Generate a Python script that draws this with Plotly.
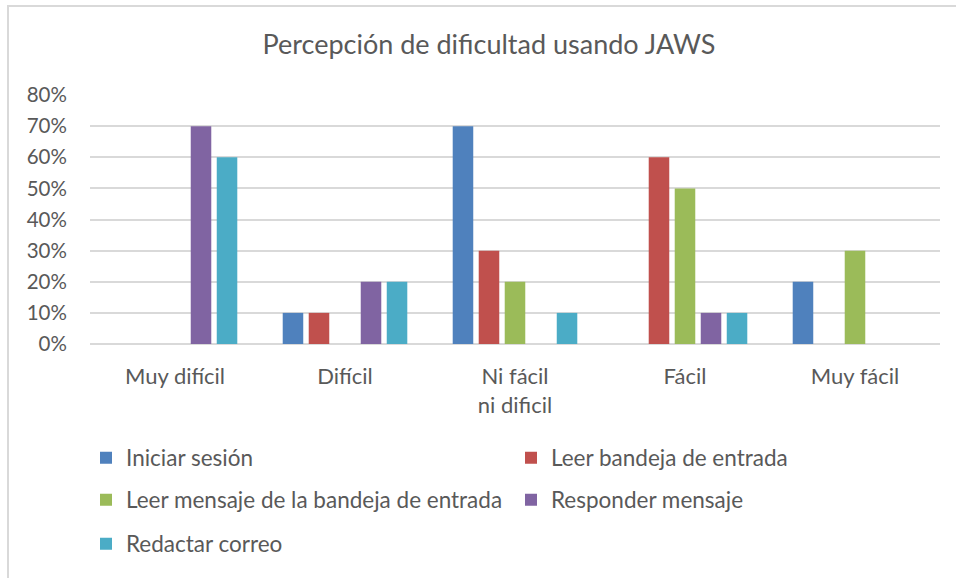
import plotly.graph_objects as go

categories = ["Muy difícil", "Difícil", "Ni fácil<br>ni dificil", "Fácil", "Muy fácil"]
series_names = ["Iniciar sesión", "Leer bandeja de entrada",
                "Leer mensaje de la bandeja de entrada", "Responder mensaje",
                "Redactar correo"]
iniciar_sesion = [0, 0.10, 0.70, 0, 0.20]
leer_bandeja = [0, 0.10, 0.30, 0.60, 0]
leer_mensaje = [0, 0, 0.20, 0.50, 0.30]
responder_mensaje = [0.70, 0.20, 0, 0.10, 0]
redactar_correo = [0.60, 0.20, 0.10, 0.10, 0]
colors = ["#4F81BD", "#C0504D", "#9BBB59", "#8064A2", "#4BACC6"]
y_ticks = [0, 0.1, 0.2, 0.3, 0.4, 0.5, 0.6, 0.7, 0.8]
y_ticktext = ["0%", "10%", "20%", "30%", "40%", "50%", "60%", "70%", "80%"]

values = [iniciar_sesion, leer_bandeja, leer_mensaje, responder_mensaje, redactar_correo]
legend_ids = ["legend", "legend2", "legend3", "legend4", "legend5"]

FONT = "Lato, Carlito, 'Open Sans', sans-serif"
TXT = "#595959"

fig = go.Figure()
for name, vals, col, lg in zip(series_names, values, colors, legend_ids):
    fig.add_trace(go.Bar(
        x=categories, y=vals, name=name, marker_color=col,
        marker_line_width=0, legend=lg,
    ))

W, H = 956, 578
L, R, T, B = 90, 16, 95, 234
pw, ph = W - L - R, H - T - B

def px_x(x):
    return (x - L) / pw

def px_y(y):
    return (H - B - y) / ph

def leg(xpx, ypx):
    return dict(
        orientation="v", xanchor="left", yanchor="middle",
        x=px_x(xpx), y=px_y(ypx),
        font=dict(family=FONT, size=22.5, color=TXT),
        bgcolor="rgba(0,0,0,0)",
    )

col1, col2 = 86, 511
fig.update_layout(
    width=W, height=H,
    margin=dict(l=L, r=R, t=T, b=B),
    paper_bgcolor="white", plot_bgcolor="white",
    barmode="group", bargap=0.235, bargroupgap=0.21,
    title=dict(text="Percepción de dificultad usando JAWS",
               font=dict(family=FONT, size=27, color=TXT),
               x=489 / W, xanchor="center", y=1 - 45 / H, yanchor="middle"),
    font=dict(family=FONT, color=TXT),
    legend=leg(col1, 458),
    legend2=leg(col2, 458),
    legend3=leg(col1, 500),
    legend4=leg(col2, 500),
    legend5=leg(col1, 544),
    xaxis=dict(
        showgrid=False, showline=False, zeroline=False,
        ticks="outside", ticklen=13, tickcolor="rgba(0,0,0,0)",
        tickfont=dict(family=FONT, size=22, color=TXT),
        fixedrange=True,
    ),
    yaxis=dict(
        range=[0, 0.8], tickvals=y_ticks, ticktext=y_ticktext,
        showgrid=True, gridcolor="#D9D9D9", gridwidth=1.5,
        zeroline=True, zerolinecolor="#D9D9D9", zerolinewidth=1.5,
        showline=False,
        ticks="outside", ticklen=18, tickcolor="rgba(0,0,0,0)",
        tickfont=dict(family=FONT, size=20.5, color=TXT),
        fixedrange=True,
    ),
    showlegend=True,
)

# chart-area border
fig.add_shape(type="rect", xref="paper", yref="paper",
              x0=px_x(8), x1=px_x(1000), y0=px_y(620), y1=px_y(6),
              line=dict(color="#D9D9D9", width=2), fillcolor="rgba(0,0,0,0)",
              layer="below")

fig.write_html("out.html", config={"displayModeBar": False},
               post_script="document.body.style.margin='0px';")
